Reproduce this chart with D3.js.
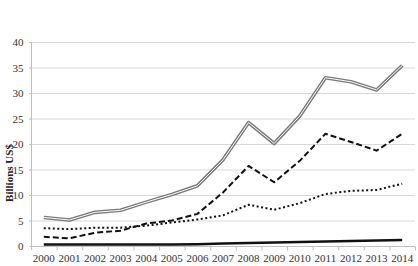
<!DOCTYPE html>
<html>
<head>
<meta charset="utf-8">
<script src="https://cdn.jsdelivr.net/npm/d3@7"></script>
<style>
  body { margin: 0; background: #fff; }
  svg { display: block; }
</style>
</head>
<body>
<svg width="418" height="266"></svg>
<script>
// Years on the category axis
const years = ['2000', '2001', '2002', '2003', '2004', '2005', '2006', '2007',
  '2008', '2009', '2010', '2011', '2012', '2013', '2014']
// Four series, billions US$
const totalSeries = [5.6, 5.1, 6.6, 7.0, 8.6, 10.1, 11.8, 16.9, 24.2, 20.1, 25.5, 33.0, 32.2, 30.6, 35.4]
const dashedSeries = [1.8, 1.5, 2.6, 3.0, 4.4, 5.0, 6.3, 10.5, 15.7, 12.5, 16.7, 22.0, 20.4, 18.7, 22.0]
const dottedSeries = [3.5, 3.3, 3.6, 3.6, 4.0, 4.6, 5.2, 6.0, 8.1, 7.1, 8.4, 10.2, 10.8, 11.0, 12.2]
const solidSeries = [0.3, 0.3, 0.3, 0.3, 0.3, 0.3, 0.35, 0.5, 0.6, 0.7, 0.8, 0.9, 1.0, 1.1, 1.2]
const yTicks = [0, 5, 10, 15, 20, 25, 30, 35, 40]

const svg = d3.select('svg')
// Plot area edges
const plotLeft = 31, plotRight = 415, plotTop = 42, plotBottom = 246

const x = d3.scaleBand().domain(years).range([plotLeft, plotRight])
const y = d3.scaleLinear().domain([0, 40]).range([plotBottom, plotTop])

// Horizontal gridlines
svg.append('g')
  .selectAll('line')
  .data(yTicks.filter((d) => d > 0))
  .enter()
  .append('line')
  .attr('x1', plotLeft - 2)
  .attr('x2', plotRight)
  .attr('y1', (d) => y(d) + 0.5)
  .attr('y2', (d) => y(d) + 0.5)
  .attr('stroke', '#d9d9d9')

// Y axis with labels
const yAxis = svg.append('g')
  .attr('transform', `translate(${plotLeft + 0.5},0)`)
  .call(d3.axisLeft(y).tickValues(yTicks).tickSize(2).tickPadding(6))
yAxis.select('.domain').attr('stroke', '#bfbfbf').attr('d', `M0,${plotTop}V${plotBottom + 4}`)
yAxis.selectAll('.tick line').attr('stroke', '#bfbfbf')
yAxis.selectAll('text')
  .attr('font-family', 'Liberation Serif, DejaVu Serif, serif')
  .attr('font-size', 11)
  .attr('fill', '#333')

// X axis: ticks between categories
const xAxis = svg.append('g')
  .attr('transform', `translate(0,${plotBottom + 0.5})`)
  .call(d3.axisBottom(x).tickSize(0).tickPadding(8))
xAxis.select('.domain').attr('stroke', '#bfbfbf').attr('d', `M${plotLeft},0H${plotRight}`)
xAxis.selectAll('text')
  .attr('font-family', 'Liberation Serif, DejaVu Serif, serif')
  .attr('font-size', 11)
  .attr('fill', '#333')
xAxis.append('g')
  .selectAll('line')
  .data(years.slice(1).concat(['end']))
  .enter()
  .append('line')
  .attr('x1', (d) => (d === 'end' ? plotRight : x(d)) + 0.5)
  .attr('x2', (d) => (d === 'end' ? plotRight : x(d)) + 0.5)
  .attr('y1', 0)
  .attr('y2', 4)
  .attr('stroke', '#bfbfbf')

// Axis title
svg.append('text')
  .attr('transform', 'translate(13,173) rotate(-90)')
  .attr('text-anchor', 'middle')
  .attr('font-family', 'Liberation Serif, DejaVu Serif, serif')
  .attr('font-size', 11)
  .attr('font-weight', 'bold')
  .attr('fill', '#222')
  .text('Billions US$')

const line = d3.line()
  .x((d, i) => x(years[i]) + x.bandwidth() / 2)
  .y((d) => y(d))

const drawLine = (data, stroke, width, dash) =>
  svg.append('path')
    .datum(data)
    .attr('d', line)
    .attr('fill', 'none')
    .attr('stroke', stroke)
    .attr('stroke-width', width)
    .attr('stroke-dasharray', dash)
    .attr('stroke-linejoin', 'round')

drawLine(solidSeries, '#111', 2.5, null)
drawLine(dottedSeries, '#111', 2, '2,2.5')
drawLine(dashedSeries, '#111', 2, '6,3')
// Double line: gray outer stroke with a white core
drawLine(totalSeries, '#7a7a7a', 3.6, null)
drawLine(totalSeries, '#fff', 1, null)
</script>
</body>
</html>
